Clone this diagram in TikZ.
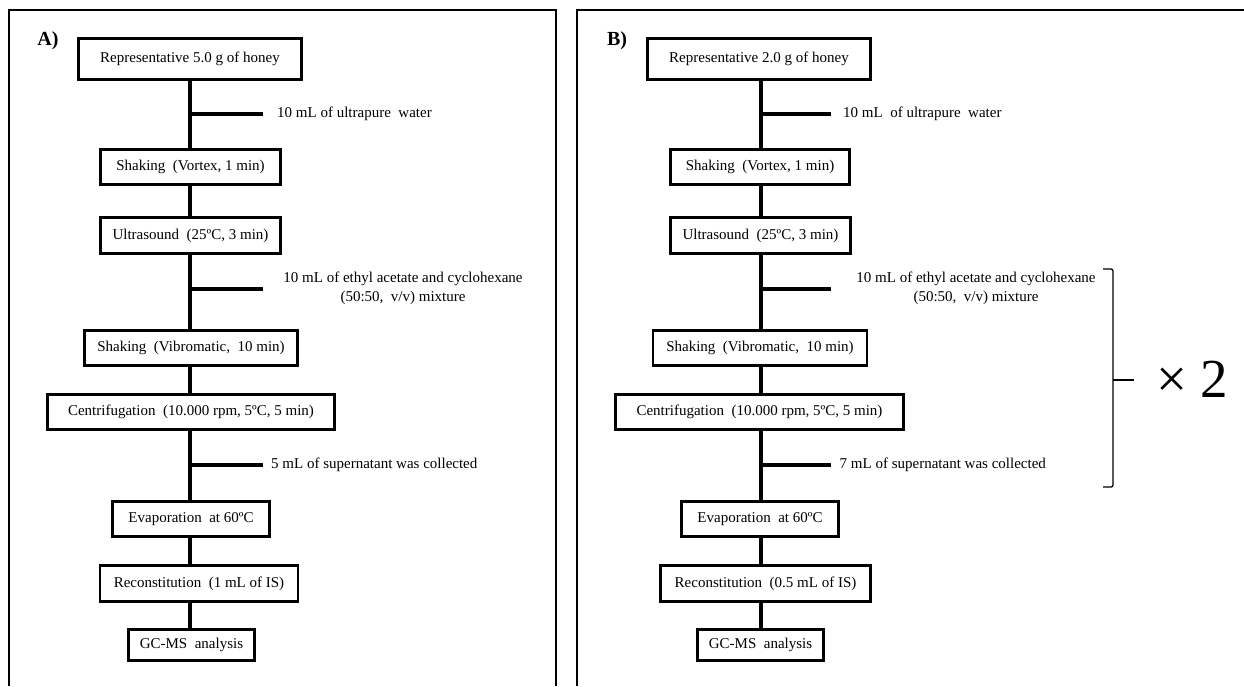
\documentclass[tikz,border=0pt]{standalone}
\usepackage{fontspec}
\setmainfont{Liberation Serif}
\newcommand\fs{\fontsize{15}{19}\selectfont}
\newcommand\ds{\hspace{0.5em}}
\begin{document}
\begin{tikzpicture}[x=1pt,y=-1pt,
  box/.style={draw, line width=2.6pt, inner sep=0pt, align=center, font=\fs},
  conn/.style={line width=4pt},
  lbl/.style={font=\fs, inner sep=0pt, align=center},
  frame/.style={line width=1.8pt},
  panel/.style={font=\fontsize{20}{24}\selectfont\bfseries, inner sep=0pt},
  brace/.style={line width=1.3pt}
]
\useasboundingbox (0,0) rectangle (1244,686);

% frames
\draw[frame] (9,686) -- (9,10) -- (556,10) -- (556,686);
\draw[frame] (577,686) -- (577,10) -- (1244,10);

% ---------------- Panel A ----------------
\node[panel] (pa) at (48,41) {A)};
\coordinate (sa) at (190,0);
\node[box,minimum width=223pt,minimum height=41pt] (a1) at (190,59) {Representative 5.0 g of honey};
\node[box,minimum width=180pt,minimum height=35pt] (a2) at (190.5,167) {Shaking\ds(Vortex, 1 min)};
\node[box,minimum width=180pt,minimum height=36pt] (a3) at (190.5,235.5) {Ultrasound\ds(25ºC, 3 min)};
\node[box,minimum width=213pt,minimum height=35pt] (a4) at (191,348) {Shaking\ds(Vibromatic,\ds10 min)};
\node[box,minimum width=287pt,minimum height=35pt] (a5) at (191,412) {Centrifugation\ds(10.000 rpm, 5ºC, 5 min)};
\node[box,minimum width=157pt,minimum height=35pt] (a6) at (191,519) {Evaporation\ds at 60ºC};
\node[box,minimum width=198pt,minimum height=36pt] (a7) at (199,583.5) {Reconstitution\ds(1 mL of IS)};
\node[box,minimum width=126pt,minimum height=31pt] (a8) at (191.5,645) {GC-MS\ds analysis};

\foreach \u/\v in {a1/a2,a2/a3,a3/a4,a4/a5,a5/a6,a6/a7,a7/a8}
  \draw[conn] (\u.south -| sa) -- (\v.north -| sa);

\coordinate (ba1) at (190,114); \coordinate (ea1) at (262.5,114);
\coordinate (ba2) at (190,289); \coordinate (ea2) at (262.5,289);
\coordinate (ba3) at (190,465); \coordinate (ea3) at (262.5,465);
\draw[conn] (ba1) -- (ea1);
\draw[conn] (ba2) -- (ea2);
\draw[conn] (ba3) -- (ea3);
\node[lbl,anchor=west] (la1) at (277,113.5) {10 mL of ultrapure\ds water};
\node[lbl] (la2) at (403,288.5) {10 mL of ethyl acetate and cyclohexane\\(50:50,\ds v/v) mixture};
\node[lbl,anchor=west] (la3) at (271,465) {5 mL of supernatant was collected};

% ---------------- Panel B ----------------
\node[panel] (pb) at (617,41) {B)};
\coordinate (sb) at (760.5,0);
\node[box,minimum width=223pt,minimum height=41pt] (b1) at (759,59) {Representative 2.0 g of honey};
\node[box,minimum width=179pt,minimum height=35pt] (b2) at (760,167) {Shaking\ds(Vortex, 1 min)};
\node[box,minimum width=180pt,minimum height=36pt] (b3) at (760.5,235.5) {Ultrasound\ds(25ºC, 3 min)};
\node[box,minimum width=214pt,minimum height=35pt] (b4) at (760,348) {Shaking\ds(Vibromatic,\ds10 min)};
\node[box,minimum width=288pt,minimum height=35pt] (b5) at (759.5,412) {Centrifugation\ds(10.000 rpm, 5ºC, 5 min)};
\node[box,minimum width=157pt,minimum height=35pt] (b6) at (760,519) {Evaporation\ds at 60ºC};
\node[box,minimum width=210pt,minimum height=36pt] (b7) at (765.5,583.5) {Reconstitution\ds(0.5 mL of IS)};
\node[box,minimum width=126pt,minimum height=31pt] (b8) at (760.5,645) {GC-MS\ds analysis};

\foreach \u/\v in {b1/b2,b2/b3,b3/b4,b4/b5,b5/b6,b6/b7,b7/b8}
  \draw[conn] (\u.south -| sb) -- (\v.north -| sb);

\coordinate (bb1) at (760.5,114); \coordinate (eb1) at (830.5,114);
\coordinate (bb2) at (760.5,289); \coordinate (eb2) at (830.5,289);
\coordinate (bb3) at (760.5,465); \coordinate (eb3) at (830.5,465);
\draw[conn] (bb1) -- (eb1);
\draw[conn] (bb2) -- (eb2);
\draw[conn] (bb3) -- (eb3);
\node[lbl,anchor=west] (lb1) at (843,113.5) {10 mL\ds of ultrapure\ds water};
\node[lbl] (lb2) at (976,288.5) {10 mL of ethyl acetate and cyclohexane\\(50:50,\ds v/v) mixture};
\node[lbl,anchor=west] (lb3) at (839.5,465) {7 mL of supernatant was collected};

% repetition bracket
\coordinate (bt) at (1113,269);
\coordinate (bm) at (1113,380);
\coordinate (bbm) at (1113,487);
\draw[brace, rounded corners=2pt] (1103,269) -- (bt) -- (bbm) -- (1103,487);
\draw[brace] (bm) -- (1134,380);
\node[anchor=base west, inner sep=0pt, font=\fontsize{55}{60}\selectfont] (x2) at (1156,397) {× 2};
\end{tikzpicture}
\end{document}
